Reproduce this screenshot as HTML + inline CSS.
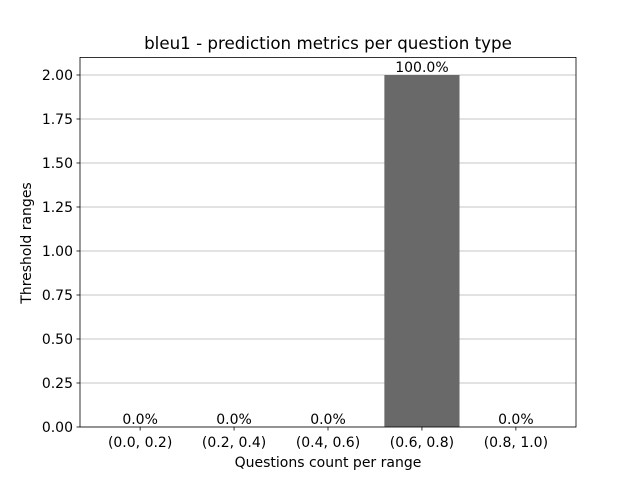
<!DOCTYPE html>
<html><head><meta charset="utf-8"><style>
body{margin:0;background:#fff;}
svg{font-family:"DejaVu Sans","Liberation Sans",sans-serif;}
</style></head><body>
<svg id="chart" width="640" height="480" xmlns="http://www.w3.org/2000/svg">
<rect width="640" height="480" fill="#fff"/>
<text x="328" y="49" text-anchor="middle" font-size="16.7">bleu1 - prediction metrics per question type</text>
<g id="grid"></g><g id="bars"></g><g id="ticks"></g>
<rect x="80" y="57.4" width="496" height="369.6" fill="none" stroke="#000" stroke-width="0.8"/>
<text x="328" y="467" text-anchor="middle" font-size="14">Questions count per range</text>
<text transform="translate(31,243) rotate(-90)" text-anchor="middle" font-size="14">Threshold ranges</text>
</svg>
<script>
const categories=["(0.0, 0.2)","(0.2, 0.4)","(0.4, 0.6)","(0.6, 0.8)","(0.8, 1.0)"];
const values=[0,0,0,2,0];
const percentLabels=["0.0%","0.0%","0.0%","100.0%","0.0%"];
const yTicks=[0,0.25,0.5,0.75,1.0,1.25,1.5,1.75,2.0];
const X0=80,X1=576,Y0=427,Y1=57.4,xmin=-0.64,xmax=4.64,ymax=2.1;
const xs=v=>X0+(v-xmin)/(xmax-xmin)*(X1-X0);
const ys=v=>Y0-v/ymax*(Y0-Y1);
const NS="http://www.w3.org/2000/svg";
function mk(tag,attrs,parent,text){const e=document.createElementNS(NS,tag);for(const k in attrs)e.setAttribute(k,attrs[k]);if(text!==undefined)e.textContent=text;document.getElementById(parent).appendChild(e);return e;}
yTicks.forEach(t=>{
 const y=ys(t);
 const g=mk('line',{x1:X0,x2:X1,y1:y,y2:y,stroke:'#b0b0b0','stroke-width':0.8},'grid');
 
 
 const tk=mk('line',{x1:X0-3.5,x2:X0,y1:y,y2:y,stroke:'#000','stroke-width':0.8},'ticks');
 
 
 const l=mk('text',{x:X0-7,y:y+5,'text-anchor':'end','font-size':14},'ticks',t.toFixed(2));
 
 
});
categories.forEach((c,i)=>{
 const xl=xs(i-0.4),xr=xs(i+0.4),yt=ys(values[i]);
 const b=mk('rect',{x:xl,y:yt,width:xr-xl,height:Y0-yt,fill:'#696969'},'bars');
 
 
 const pl=mk('text',{x:xs(i),y:yt-3,'text-anchor':'middle','font-size':14},'bars',percentLabels[i]);
 
 
 const tk=mk('line',{x1:xs(i),x2:xs(i),y1:Y0,y2:Y0+3.5,stroke:'#000','stroke-width':0.8},'ticks');
 
 
 const l=mk('text',{x:xs(i),y:Y0+20,'text-anchor':'middle','font-size':14},'ticks',c);
 
 
});
</script>
</body></html>
